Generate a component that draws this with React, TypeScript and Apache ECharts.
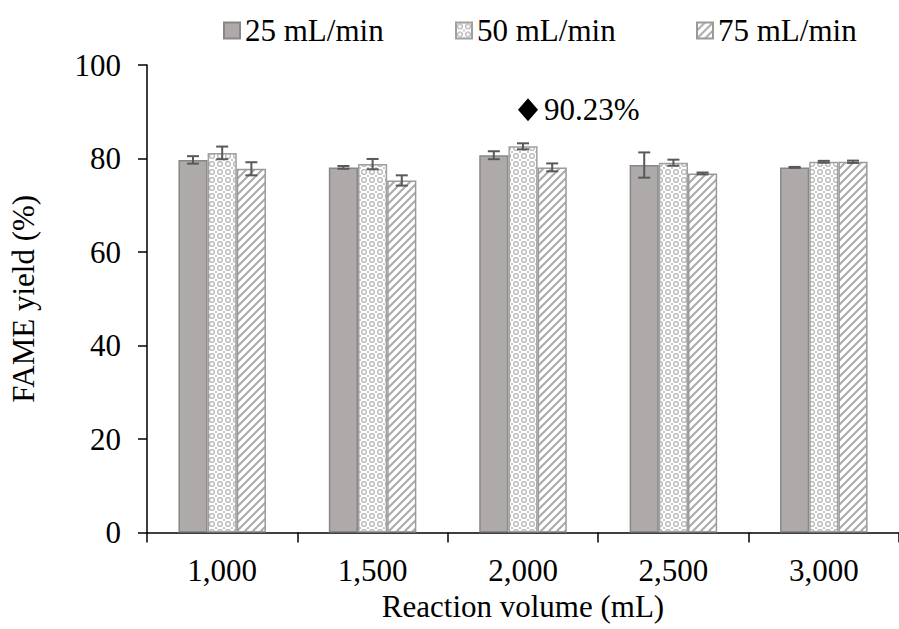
import React, { useEffect, useRef } from "react";
import * as echarts from "echarts";

const categories = ["1,000", "1,500", "2,000", "2,500", "3,000"];
const seriesNames = ["25 mL/min", "50 mL/min", "75 mL/min"];
const yield25 = [79.7, 78.1, 80.7, 78.6, 78.1];
const yield50 = [81.2, 78.8, 82.6, 79.1, 79.3];
const yield75 = [77.8, 75.3, 78.1, 76.8, 79.3];
const err25 = [0.8, 0.3, 0.85, 2.7, 0.1];
const err50 = [1.35, 1.1, 0.65, 0.65, 0.2];
const err75 = [1.4, 1.1, 0.85, 0.2, 0.25];
const peakCategory = "2,000";
const peakValue = 90.23;
const peakLabel = "90.23%";
const yTicks = [0, 20, 40, 60, 80, 100];

const FONT = "'Liberation Serif', 'Times New Roman', serif";
const BAR_RATIO = 0.194;
const LEGEND_LEFTS = [218, 450, 691];

function makeDots(): HTMLCanvasElement {
  const c = document.createElement("canvas");
  c.width = 8;
  c.height = 8;
  const g = c.getContext("2d")!;
  g.fillStyle = "#ffffff";
  g.fillRect(0, 0, 8, 8);
  g.strokeStyle = "#b4b4b4";
  g.lineWidth = 1.2;
  g.beginPath();
  g.arc(4, 4, 2.4, 0, Math.PI * 2);
  g.stroke();
  g.fillStyle = "#c8c8c8";
  g.fillRect(0, 0, 1, 1);
  g.fillRect(7, 7, 1, 1);
  g.fillRect(0, 7, 1, 1);
  g.fillRect(7, 0, 1, 1);
  return c;
}

function makeStripes(): HTMLCanvasElement {
  const c = document.createElement("canvas");
  c.width = 8;
  c.height = 8;
  const g = c.getContext("2d")!;
  g.fillStyle = "#ffffff";
  g.fillRect(0, 0, 8, 8);
  g.strokeStyle = "#ababab";
  g.lineWidth = 2.1;
  g.beginPath();
  g.moveTo(-1, 9);
  g.lineTo(9, -1);
  g.moveTo(-3, 3);
  g.lineTo(3, -3);
  g.moveTo(5, 11);
  g.lineTo(11, 5);
  g.stroke();
  return c;
}

export default function App() {
  const ref = useRef<HTMLDivElement>(null);
  useEffect(() => {
    if (!ref.current) return;
    const chart = echarts.init(ref.current, undefined, { renderer: "svg" });
    const dots = makeDots();
    const stripes = makeStripes();
    const values = [yield25, yield50, yield75];
    const errs = [err25, err50, err75];
    const fills: any[] = [
      "#aeaaa9",
      { image: dots, repeat: "repeat" },
      { image: stripes, repeat: "repeat" },
    ];
    const borders = ["#8a8686", "#a0a0a0", "#9a9a9a"];

    const errData: any[] = [];
    values.forEach((vals, s) => {
      vals.forEach((v, i) => {
        errData.push([i, v, errs[s][i], s]);
      });
    });

    const barSeries = seriesNames.map((name, s) => ({
      name,
      type: "bar",
      data: values[s],
      barWidth: BAR_RATIO * 100 + "%",
      barGap: "0%",
      itemStyle: { color: fills[s], borderColor: borders[s], borderWidth: 1.5 },
    }));

    const legends = seriesNames.map((name, i) => ({
      data: [name],
      left: LEGEND_LEFTS[i],
      top: 10,
      icon: "rect",
      itemWidth: 16,
      itemHeight: 16,
      itemGap: 0,
      textStyle: { fontFamily: FONT, fontSize: 31, color: "#000" },
    }));

    chart.setOption({
      animation: false,
      textStyle: { fontFamily: FONT },
      legend: legends,
      grid: { left: 147, top: 65, width: 756, height: 467.5, containLabel: false },
      xAxis: {
        type: "category",
        data: categories,
        axisLine: { lineStyle: { color: "#000", width: 1.5 } },
        axisTick: { show: true, length: 10, lineStyle: { color: "#000", width: 1.5 } },
        axisLabel: { fontFamily: FONT, fontSize: 31, color: "#000", margin: 22 },
        name: "Reaction volume (mL)",
        nameLocation: "middle",
        nameGap: 58,
        nameTextStyle: { fontFamily: FONT, fontSize: 31, color: "#000" },
      },
      yAxis: {
        type: "value",
        min: yTicks[0],
        max: yTicks[yTicks.length - 1],
        interval: 20,
        splitLine: { show: false },
        axisLine: { show: true, lineStyle: { color: "#000", width: 1.5 } },
        axisTick: { show: true, length: 9, lineStyle: { color: "#000", width: 1.5 } },
        axisLabel: { fontFamily: FONT, fontSize: 31, color: "#000", margin: 26 },
        name: "FAME yield (%)",
        nameLocation: "middle",
        nameGap: 108,
        nameRotate: 90,
        nameTextStyle: { fontFamily: FONT, fontSize: 31, color: "#000" },
      },
      series: [
        ...barSeries,
        {
          type: "custom",
          name: "error",
          z: 10,
          encode: { x: 0, y: 1 },
          data: errData,
          renderItem: (params: any, api: any) => {
            const ci = api.value(0);
            const v = api.value(1);
            const e = api.value(2);
            const s = api.value(3);
            const catW = api.size([1, 0])[0];
            const bw = catW * BAR_RATIO;
            const c = api.coord([ci, v]);
            const x = c[0] + (s - 1) * bw;
            const top = api.coord([ci, v + e])[1];
            const bot = api.coord([ci, v - e])[1];
            const hw = 6;
            const style = { stroke: "#595959", lineWidth: 2 };
            return {
              type: "group",
              children: [
                { type: "line", shape: { x1: x, y1: top, x2: x, y2: bot }, style },
                { type: "line", shape: { x1: x - hw, y1: top, x2: x + hw, y2: top }, style },
                { type: "line", shape: { x1: x - hw, y1: bot, x2: x + hw, y2: bot }, style },
              ],
            };
          },
        },
        {
          type: "scatter",
          name: "peak",
          data: [[peakCategory, peakValue]],
          symbol: "diamond",
          symbolSize: [20, 23],
          symbolOffset: [5, -1],
          itemStyle: { color: "#000", opacity: 1 },
          label: {
            show: true,
            position: "right",
            distance: 6,
            formatter: () => peakLabel,
            fontFamily: FONT,
            fontSize: 31,
            color: "#000",
          },
          z: 11,
        },
      ],
    });
    return () => chart.dispose();
  }, []);
  return (
    <div
      ref={ref}
      style={{ position: "fixed", left: 0, top: 0, width: 899, height: 629, background: "#fff" }}
    />
  );
}
